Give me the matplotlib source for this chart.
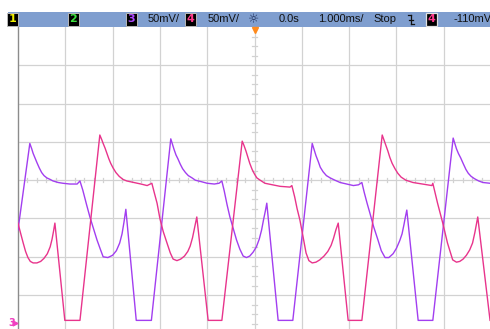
import matplotlib
matplotlib.use("Agg")
import matplotlib.pyplot as plt
from matplotlib.patches import Rectangle
from matplotlib.lines import Line2D

# ---- data (time in ms, voltage in mV relative to screen centre) ----
ch3_t = [-5.00, -4.75, -4.71, -4.68, -4.64, -4.60, -4.55, -4.50, -4.45, -4.39, -4.32, -4.26,
         -4.15, -4.05, -3.90, -3.75, -3.69,
         -3.63, -3.55, -3.48, -3.40, -3.33, -3.26, -3.20, -3.10, -3.00, -2.92, -2.85, -2.80,
         -2.76, -2.72, -2.50, -2.18,
         -1.77, -1.73, -1.70, -1.66, -1.62, -1.57, -1.52, -1.46, -1.40, -1.32, -1.25, -1.12,
         -1.00, -0.85, -0.75, -0.69,
         -0.64, -0.58, -0.52, -0.45, -0.38, -0.31, -0.24, -0.17, -0.10, -0.03, 0.04, 0.10,
         0.15, 0.19, 0.23, 0.26, 0.50, 0.81,
         1.22, 1.26, 1.30, 1.35, 1.39, 1.45, 1.52, 1.60, 1.70, 1.81, 1.95, 2.09, 2.20, 2.27,
         2.32, 2.38, 2.44, 2.52, 2.61, 2.68, 2.76, 2.84, 2.93, 3.00, 3.07, 3.12, 3.16, 3.19,
         3.22, 3.46, 3.77,
         4.20, 4.24, 4.27, 4.31, 4.36, 4.41, 4.47, 4.52, 4.58, 4.65, 4.74, 4.83, 4.98]
ch3_v = [-65, 48, 41, 35, 29, 23, 16, 10, 6, 3, 1, -1,
         -3, -4, -5, -5, -1,
         -13, -32, -48, -64, -78, -90, -100, -101, -98, -92, -82, -70,
         -55, -38, -183, -183,
         54, 46, 40, 33, 28, 21, 15, 10, 6, 3, 0, -2,
         -4, -5, -4, -1,
         -14, -32, -48, -63, -78, -90, -99, -101, -99, -94, -87, -77,
         -65, -52, -40, -30, -183, -183,
         48, 40, 32, 24, 17, 11, 6, 3, 0, -3, -5, -7, -6, -3,
         -16, -30, -43, -61, -78, -92, -101, -101, -96, -89, -79, -70, -58, -48,
         -39, -183, -183,
         55, 47, 41, 35, 29, 22, 14, 9, 5, 2, -1, -3, -4]

ch4_t = [-5.00, -4.95, -4.89, -4.84, -4.79, -4.74, -4.68, -4.60, -4.52, -4.45, -4.38, -4.32,
         -4.28, -4.25, -4.22, -4.01, -3.69,
         -3.27, -3.23, -3.20, -3.16, -3.12, -3.08, -3.04, -2.99, -2.93, -2.86, -2.78, -2.70,
         -2.55, -2.40, -2.27, -2.17,
         -2.12, -2.06, -2.00, -1.93, -1.85, -1.78, -1.72, -1.64, -1.56, -1.48, -1.41, -1.36,
         -1.31, -1.27, -1.22, -0.98, -0.69,
         -0.26, -0.22, -0.18, -0.14, -0.10, -0.05, 0.00, 0.05, 0.12, 0.22, 0.38, 0.54, 0.75,
         0.79,
         0.85, 0.90, 0.96, 1.03, 1.09, 1.15, 1.22, 1.30, 1.38, 1.47, 1.55, 1.62, 1.67, 1.72,
         1.77, 1.98, 2.27,
         2.70, 2.74, 2.78, 2.82, 2.86, 2.91, 2.97, 3.03, 3.10, 3.20, 3.35, 3.55, 3.75, 3.77,
         3.87, 3.98, 4.08, 4.19, 4.27, 4.34, 4.41, 4.48, 4.55, 4.61, 4.66, 4.72, 4.98]
ch4_v = [-56, -68, -82, -93, -101, -106, -108, -108, -106, -102, -96, -87,
         -77, -67, -56, -183, -183,
         59, 53, 48, 42, 35, 28, 22, 16, 10, 5, 1, -1,
         -3, -5, -7, -4,
         -16, -30, -50, -67, -82, -95, -103, -105, -103, -99, -93, -86,
         -75, -63, -48, -183, -183,
         51, 45, 38, 30, 22, 14, 8, 3, 0, -4, -6, -8, -9,
         -7,
         -22, -37, -52, -75, -95, -105, -108, -107, -104, -99, -93, -85, -76, -65,
         -56, -183, -183,
         59, 52, 45, 38, 30, 22, 15, 9, 4, 0, -3, -5, -7, -4,
         -30, -56, -82, -104, -107, -106, -103, -98, -91, -82, -68, -48, -183]

# header labels
ch_labels = ["1", "2", "3", "4"]
scale_labels = ["50mV/", "50mV/"]
time_label = "0.0s"
timebase_label = "1.000ms/"
run_label = "Stop"
trig_level_label = "-110mV"

W, H = 490, 329
fig = plt.figure(figsize=(W / 100, H / 100), dpi=100)
fig.patch.set_facecolor("white")

def fx(px):
    return px / W

def fy(py):
    return 1 - py / H

# ---- graticule axes ----
ax = fig.add_axes([fx(18), 0, 472 / W, 302 / H])
ax.set_xlim(-5, -5 + 472 / 47.3)
ax.set_ylim(200 - 302 / 38.3 * 50, 200)
ax.set_facecolor("white")
for s in ["top", "right", "bottom"]:
    ax.spines[s].set_visible(False)
ax.spines["left"].set_color("#8c8c8c")
ax.spines["left"].set_linewidth(1.0)
ax.set_xticks([])
ax.set_yticks([])

grid_c = "#d2d2d2"
for gx in range(-4, 5):
    ax.axvline(gx, color=grid_c, lw=0.9, zorder=1)
for gy in range(-150, 200, 50):
    ax.axhline(gy, color=grid_c, lw=0.9, zorder=1)
# minor ticks on centre lines
for i in range(-25, 25):
    t = i * 0.2
    if i % 5:
        ax.plot([t, t], [-3, 3], color=grid_c, lw=0.9, zorder=1)
for i in range(-16, 17):
    v = i * 12.5
    if i % 4:
        ax.plot([-0.05, 0.05], [v, v], color=grid_c, lw=0.9, zorder=1)

ax.plot(ch3_t, ch3_v, color="#a23ef0", lw=1.0, zorder=3, solid_joinstyle="round")
ax.plot(ch4_t, ch4_v, color="#e8348c", lw=1.0, zorder=3, solid_joinstyle="round")

# ---- top status bar ----
fig.patches.append(Rectangle((fx(8), fy(27)), fx(482), 15 / H, transform=fig.transFigure,
                             facecolor="#7f9ecf", edgecolor="none", zorder=5))

fs = 8
yb = fy(19.5)
box_cols = ["#f0f000", "#3ce03c", "#b048ff", "#ff3a8c"]
box_x = [12.5, 73.5, 131.5, 190.5]
for lab, col, x in zip(ch_labels, box_cols, box_x):
    fig.text(fx(x), yb, lab, color=col, fontsize=fs, ha="center", va="center",
             family="DejaVu Sans", weight="bold", zorder=6,
             bbox=dict(boxstyle="square,pad=0.12", fc="black", ec="#b8b8b8", lw=0.7))

tfont = dict(fontsize=fs, va="center", color="#111111", family="Liberation Sans", zorder=6)
fig.text(fx(148), yb, scale_labels[0], ha="left", **tfont)
fig.text(fx(208), yb, scale_labels[1], ha="left", **tfont)
fig.text(fx(254), yb, "\u263c", ha="center", va="center", fontsize=9, color="#1b2a55",
         family="DejaVu Sans", zorder=6)
fig.text(fx(279), yb, time_label, ha="left", **tfont)
fig.text(fx(318), yb, timebase_label, ha="left", **tfont)
fig.text(fx(373), yb, run_label, ha="left", **tfont)
# trigger slope symbol
for xs, ys in [([407.5, 410.5], [15, 15]), ([410.5, 410.5], [15, 24]), ([410.5, 413.5], [24, 24]),
               ([408.5, 412.5], [19.5, 19.5])]:
    fig.add_artist(Line2D([fx(v) for v in xs], [fy(v) for v in ys], color="#111111", lw=0.9,
                          transform=fig.transFigure, zorder=6))
fig.text(fx(431.5), yb, ch_labels[3], color="#ff3a8c", fontsize=fs, ha="center", va="center",
         family="DejaVu Sans", weight="bold", zorder=6,
         bbox=dict(boxstyle="square,pad=0.12", fc="black", ec="#e0e0e0", lw=0.9))
fig.text(fx(453), yb, trig_level_label, ha="left", **tfont)

# trigger position marker
fig.add_artist(Line2D([fx(255)], [fy(29.5)], marker="v", markersize=5, color="#ff8a1c",
                      transform=fig.transFigure, zorder=7))

# ground reference marker bottom-left
fig.text(fx(8), fy(323), "3", color="#f040c0", fontsize=7, ha="left", va="center",
         family="DejaVu Sans", weight="bold", zorder=6)
fig.add_artist(Line2D([fx(15)], [fy(323)], marker=">", markersize=3.5, color="#f040c0",
                      transform=fig.transFigure, zorder=6))

fig.savefig("out.png", dpi=100)
